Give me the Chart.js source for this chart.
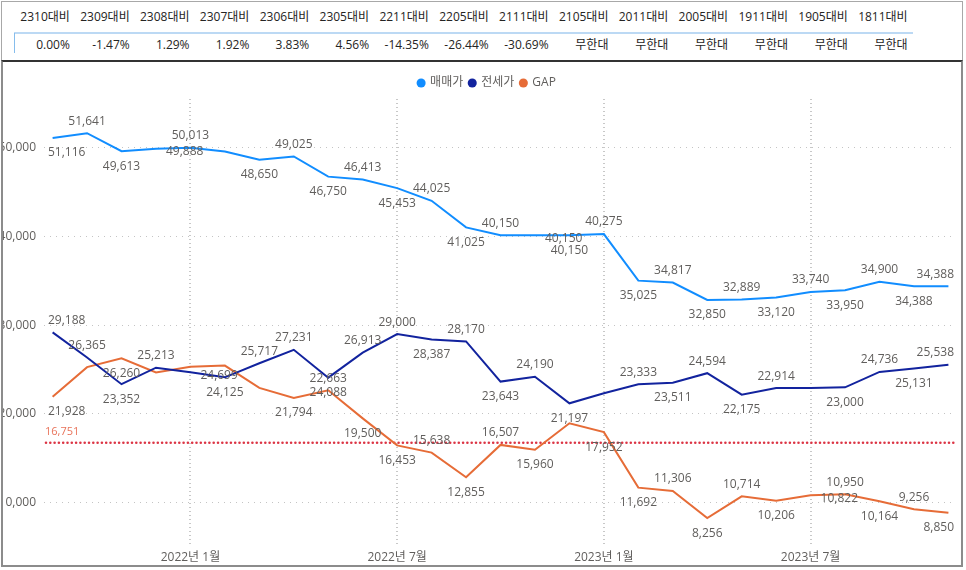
<!DOCTYPE html>
<html>
<head>
<meta charset="utf-8">
<script src="https://cdn.jsdelivr.net/npm/chart.js@4.4.0/dist/chart.umd.min.js"></script>
<style>
  body { margin: 0; background: #fff; font-family: "Open Sans", "Noto Sans CJK KR", sans-serif; }
  #table { position: absolute; left: 1px; top: 1px; width: 962px; height: 59px; box-sizing: border-box; border: 1px solid #a8a8a8; border-bottom: none; }
  .row { position: absolute; left: 8px; display: flex; }
  .row div { width: 59.85px; text-align: right; font-size: 12px; line-height: 16px; color: #252423; white-space: nowrap; }
  #head { top: 7px; }
  #vals { top: 35px; }
  #uline { position: absolute; left: 12px; top: 30px; width: 899px; height: 2px; background: #bcd9f4; }
  #cursor { position: absolute; left: 12px; top: 31px; width: 1px; height: 20px; background: #86bdec; }
  #frame { position: absolute; left: 1px; top: 60px; width: 962px; height: 507px; box-sizing: border-box; border: 2px solid #8c8c8c; border-top: 2px solid #333; overflow: hidden; }
  #wrap { position: absolute; left: -3px; top: 0; width: 961px; height: 503px; }
</style>
</head>
<body>
<div id="table">
  <div id="uline"></div>
  <div id="cursor"></div>
  <div class="row" id="head"></div>
  <div class="row" id="vals"></div>
</div>
<div id="frame"><div id="wrap"><canvas id="chart"></canvas></div></div>
<script>
const compareHeads = ["2310대비", "2309대비", "2308대비", "2307대비", "2306대비", "2305대비", "2211대비", "2205대비",
  "2111대비", "2105대비", "2011대비", "2005대비", "1911대비", "1905대비", "1811대비"];
const compareVals = ["0.00%", "-1.47%", "1.29%", "1.92%", "3.83%", "4.56%", "-14.35%", "-26.44%",
  "-30.69%", "무한대", "무한대", "무한대", "무한대", "무한대", "무한대"];

const months = ["2021-09", "2021-10", "2021-11", "2021-12",
  "2022-01", "2022-02", "2022-03", "2022-04", "2022-05", "2022-06", "2022-07", "2022-08", "2022-09", "2022-10", "2022-11", "2022-12",
  "2023-01", "2023-02", "2023-03", "2023-04", "2023-05", "2023-06", "2023-07", "2023-08", "2023-09", "2023-10", "2023-11"];
const salePrice = [51116, 51641, 49613, 49888, 50013, 49580, 48650, 49025, 46750, 46413, 45453, 44025, 41025, 40150,
  40150, 40150, 40275, 35025, 34817, 32850, 32889, 33120, 33740, 33950, 34900, 34388, 34388];
const jeonsePrice = [29188, 26365, 23352, 25213, 24699, 24125, 25717, 27231, 24088, 26913, 29000, 28387, 28170, 23643,
  24190, 21197, 22323, 23333, 23511, 24594, 22175, 22914, 22919, 23000, 24736, 25131, 25538];
const gapPrice = [21928, 25276, 26260, 24675, 25314, 25455, 22933, 21794, 22663, 19500, 16453, 15638, 12855, 16507,
  15960, 18953, 17952, 11692, 11306, 8256, 10714, 10206, 10822, 10950, 10164, 9256, 8850];
const yTicks = [10000, 20000, 30000, 40000, 50000];
const refValue = 16751;

const head = document.getElementById("head");
const vals = document.getElementById("vals");
compareHeads.forEach(function (h, i) {
    const a = document.createElement("div");
    a.textContent = h;
    head.appendChild(a);
    const b = document.createElement("div");
    b.textContent = compareVals[i];
    vals.appendChild(b);
});

const fmt = v => v.toLocaleString("en-US");
const textColor = "#605E5C";
Chart.defaults.font.family = '"Open Sans", "Noto Sans CJK KR", sans-serif';
Chart.defaults.font.size = 12;

// power bi style labels: preferred side first, then the other side, then right, else hidden
const pointLabels = {
    id: "pointLabels",
    afterDatasetsDraw(chart) {
        const ctx = chart.ctx, area = chart.chartArea;
        ctx.save();
        ctx.font = '12px "Open Sans", sans-serif';
        ctx.fillStyle = textColor;
        ctx.textAlign = "center";
        ctx.textBaseline = "middle";
        const placed = [];
        const gap = 3;
        const hit = r => placed.some(p => r.l - gap < p.r && r.r + gap > p.l && r.t < p.b && r.b > p.t);
        chart.data.datasets.forEach(function (ds, di) {
            const pts = chart.getDatasetMeta(di).data;
            const v = ds.data.map(d => d.y);
            const order = v.map(function (val, i) {
                const nb = [v[i - 1], v[i + 1]].filter(n => n !== undefined);
                const avg = nb.reduce((a, b) => a + b, 0) / nb.length;
                return { i: i, up: val >= avg, prom: Math.abs(val - avg) };
            }).sort((a, b) => b.prom - a.prom);
            order.forEach(function (o) {
                const p = pts[o.i];
                const text = fmt(v[o.i]);
                const w = ctx.measureText(text).width, h = 12;
                const box = function (cx, cy) {
                    cx = Math.min(Math.max(cx, area.left + w / 2 + 4), area.right - w / 2 - 2);
                    return { l: cx - w / 2, r: cx + w / 2, t: cy - h / 2, b: cy + h / 2, cx: cx, cy: cy };
                };
                const above = box(p.x, p.y - 12);
                const below = box(p.x, p.y + 15);
                const right = box(p.x + 10 + w / 2, p.y + 3);
                const tries = o.up ? [above, below, right] : [below, above, right];
                const r = tries.find(b => !hit(b));
                if (r) {
                    placed.push(r);
                    ctx.fillText(text, r.cx, r.cy);
                }
            });
        });
        ctx.restore();
    }
};

const refLine = {
    id: "refLine",
    beforeDatasetsDraw(chart) {
        const ctx = chart.ctx, area = chart.chartArea;
        const py = chart.scales.y.getPixelForValue(refValue);
        ctx.save();
        ctx.strokeStyle = "#DC3545";
        ctx.lineWidth = 2.6;
        ctx.lineCap = "round";
        ctx.setLineDash([0, 4.3]);
        ctx.beginPath();
        ctx.moveTo(area.left + 2, py);
        ctx.lineTo(area.right - 1, py);
        ctx.stroke();
        ctx.font = '11px "Open Sans", sans-serif';
        ctx.fillStyle = "#E8735A";
        ctx.textAlign = "left";
        ctx.textBaseline = "middle";
        ctx.fillText(fmt(refValue), area.left + 1, py - 10.5);
        ctx.restore();
    }
};

const toPoints = arr => arr.map((v, i) => ({ x: i, y: v }));

new Chart(document.getElementById("chart"), {
    type: "line",
    data: {
        datasets: [{
            label: "매매가",
            data: toPoints(salePrice),
            borderColor: "#118DFF",
            backgroundColor: "#118DFF",
            borderWidth: 2,
            pointRadius: 0,
            tension: 0
        }, {
            label: "전세가",
            data: toPoints(jeonsePrice),
            borderColor: "#12239E",
            backgroundColor: "#12239E",
            borderWidth: 2,
            pointRadius: 0,
            tension: 0
        }, {
            label: "GAP",
            data: toPoints(gapPrice),
            borderColor: "#E66C37",
            backgroundColor: "#E66C37",
            borderWidth: 2,
            pointRadius: 0,
            tension: 0
        }]
    },
    options: {
        responsive: true,
        maintainAspectRatio: false,
        animation: false,
        layout: { padding: { top: 9, left: 0, right: 5, bottom: 0 } },
        plugins: {
            tooltip: { enabled: false },
            legend: {
                position: "top",
                labels: {
                    color: textColor,
                    font: { size: 12 },
                    padding: 6,
                    usePointStyle: true,
                    boxWidth: 6,
                    boxHeight: 6.4,
                    // empty first entry nudges the centred legend right, as in the report
                    generateLabels: chart => [{ text: "", fillStyle: "rgba(0,0,0,0)", lineWidth: 0, hidden: false, pointStyle: "circle" }]
                        .concat(Chart.defaults.plugins.legend.labels.generateLabels(chart)
                            .map(l => Object.assign(l, { lineWidth: 0, pointStyle: "circle" })))
                }
            }
        },
        scales: {
            x: {
                type: "linear",
                min: -0.25,
                max: 26.22,
                afterBuildTicks: axis => {
                    axis.ticks = months.map((m, i) => ({ value: i, m: m }))
                        .filter(t => t.m.endsWith("-01") || t.m.endsWith("-07"))
                        .map(t => ({ value: t.value }));
                },
                afterFit: axis => { axis.height = 18; },
                ticks: {
                    color: textColor,
                    padding: 3,
                    maxRotation: 0,
                    autoSkip: false,
                    callback: v => {
                        const p = months[v].split("-");
                        return p[0] + "년 " + parseInt(p[1]) + "월";
                    }
                },
                grid: { color: "#c8c8c8", lineWidth: 2, drawTicks: false },
                border: { display: false, dash: [1, 3] }
            },
            y: {
                min: 5000,
                max: 55500,
                afterBuildTicks: axis => { axis.ticks = yTicks.map(v => ({ value: v })); },
                afterFit: axis => { axis.width = 44; },
                ticks: { color: textColor, padding: 8, callback: v => fmt(v) },
                grid: { color: "#c4c4c4", lineWidth: 1, drawTicks: false },
                border: { display: false, dash: [1, 5] }
            }
        }
    },
    plugins: [refLine, pointLabels]
});
</script>
</body>
</html>
